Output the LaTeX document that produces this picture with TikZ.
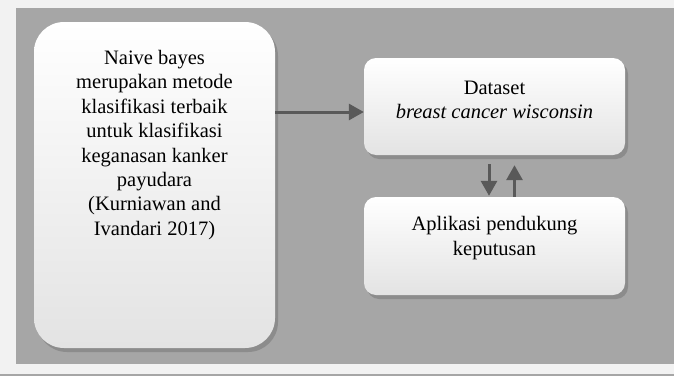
\documentclass[tikz,border=0pt]{standalone}
\usepackage{fontspec}
\setmainfont{Liberation Serif}
\usetikzlibrary{arrows.meta,shadows}
\definecolor{panelgray}{HTML}{A6A6A6}
\definecolor{arrowgray}{HTML}{595959}
\definecolor{paper}{HTML}{F2F2F2}
\begin{document}
\begin{tikzpicture}[x=1pt,y=1pt,
  box/.style={rounded corners=22pt, top color=white, bottom color=black!11,
    drop shadow={shadow xshift=3pt, shadow yshift=-4pt, fill=black!45, opacity=1},
    inner sep=0pt},
  txt/.style={align=center, inner sep=0pt, font=\fontsize{20.5}{24.4}\selectfont},
  arr/.style={draw=arrowgray, line width=3pt, -{Triangle[length=15pt,width=16pt]}}]
\useasboundingbox (0,0) rectangle (674,376);
\fill[paper] (0,0) rectangle (674,376);
\fill[panelgray] (16,12) rectangle (674,368);
\fill[black!35] (0,0) rectangle (674,2);
\node[box, minimum width=241pt, minimum height=326pt, rounded corners=30pt] (naive) at (154.5,191) {};
\node[box, minimum width=261pt, minimum height=97pt, rounded corners=12pt] (data) at (494.5,269.5) {};
\node[box, minimum width=261pt, minimum height=98pt, rounded corners=12pt] (app) at (494.5,130) {};
\node[txt] (naivetxt) at (154.5,231) {Naive bayes\\merupakan metode\\klasifikasi terbaik\\untuk klasifikasi\\keganasan kanker\\payudara\\(Kurniawan and\\Ivandari 2017)};
\node[txt] (datatxt) at (494.5,276) {Dataset\\\textit{breast cancer wisconsin}};
\node[txt] (apptxt) at (494.5,138) {Aplikasi pendukung\\keputusan};
\draw[arr] ([yshift=-5.5pt]data.west -| naive.east) -- ([yshift=-5.5pt]data.west);
\draw[arr] ([xshift=-5.5pt,yshift=-9pt]data.south) -- ([xshift=-5.5pt,yshift=1pt]app.north);
\draw[arr] ([xshift=20pt]app.north) -- ([xshift=20pt,yshift=-10pt]data.south);
\end{tikzpicture}
\end{document}
